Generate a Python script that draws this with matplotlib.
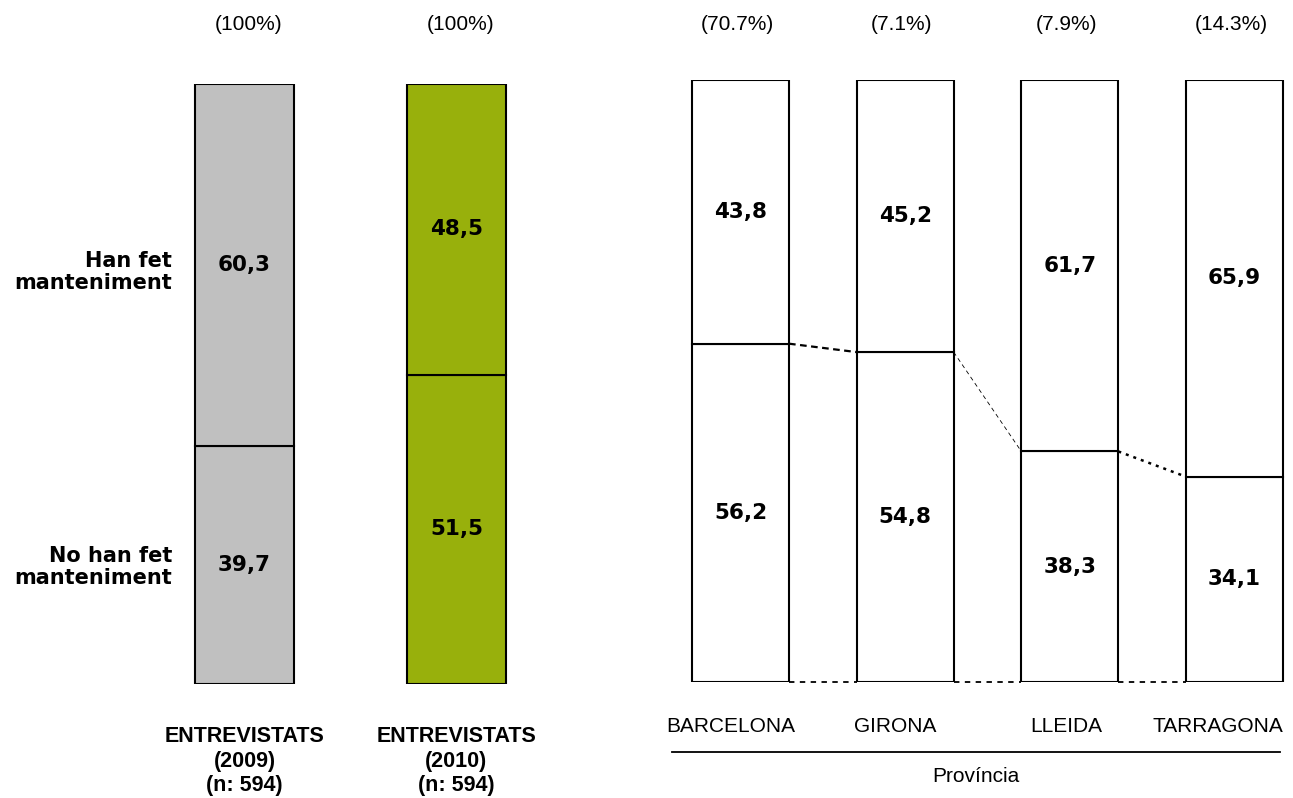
import matplotlib.pyplot as plt
import matplotlib.transforms as mtransforms
from matplotlib.lines import Line2D

# data
years = ['2009', '2010']
year_n = ['594', '594']
year_han = [60.3, 48.5]
year_no = [39.7, 51.5]
year_colors = ['#C0C0C0', '#98B00C']

provinces = ['BARCELONA', 'GIRONA', 'LLEIDA', 'TARRAGONA']
prov_share = ['70.7%', '7.1%', '7.9%', '14.3%']
prov_han = [43.8, 45.2, 61.7, 65.9]
prov_no = [56.2, 54.8, 38.3, 34.1]

# small horizontal nudges of the province names (as in the original layout)
name_shift = [-0.06, -0.06, -0.02, -0.1]

fig = plt.figure(figsize=(12.93, 7.98), dpi=100)
W, H = 1293.0, 798.0

# left axes: pixels x 150-550, y 84-684
axL = fig.add_axes([150 / W, (H - 684) / H, 400 / W, 600 / H])
# right axes: pixels x 650-1293, y 80-682
axR = fig.add_axes([650 / W, (H - 682) / H, 643 / W, 602 / H])

for ax in (axL, axR):
    ax.set_ylim(0, 100)
    ax.axis('off')

axL.set_xlim(-94.5 / 212, 1 + 93.5 / 212)
axR.set_xlim(-90.5 / 164.67, 3 + 58.5 / 164.67)

wL = 99 / 212
wR = 97 / 164.67

xl = list(range(len(years)))
axL.bar(xl, year_no, width=wL, color=year_colors, edgecolor='black', linewidth=1.5)
axL.bar(xl, year_han, bottom=year_no, width=wL, color=year_colors, edgecolor='black', linewidth=1.5)

xr = list(range(len(provinces)))
axR.bar(xr, prov_no, width=wR, color='white', edgecolor='black', linewidth=1.5)
axR.bar(xr, prov_han, bottom=prov_no, width=wR, color='white', edgecolor='black', linewidth=1.5)


def fmt(v):
    return f'{v:.1f}'.replace('.', ',')


# value labels
for i in xl:
    axL.text(i, year_no[i] / 2, fmt(year_no[i]), ha='center', va='center',
             fontsize=15.5, fontweight='bold', family='DejaVu Sans')
    axL.text(i, year_no[i] + year_han[i] / 2, fmt(year_han[i]), ha='center',
             va='center', fontsize=15.5, fontweight='bold', family='DejaVu Sans')
for i in xr:
    axR.text(i, prov_no[i] / 2, fmt(prov_no[i]), ha='center', va='center',
             fontsize=15.5, fontweight='bold', family='DejaVu Sans')
    axR.text(i, prov_no[i] + prov_han[i] / 2, fmt(prov_han[i]), ha='center',
             va='center', fontsize=15.5, fontweight='bold', family='DejaVu Sans')

# connectors between province bars
styles = [((0, (3, 2)), 1.6), ((0, (5, 4)), 0.6), ((0, (1.2, 2)), 1.8)]
for i in range(len(provinces) - 1):
    ls, lw = styles[i]
    axR.plot([i + wR / 2, i + 1 - wR / 2], [prov_no[i], prov_no[i + 1]], color='black',
             linestyle=ls, linewidth=lw, clip_on=False)
    axR.plot([i + wR / 2, i + 1 - wR / 2], [0, 0], color='black',
             linestyle=(0, (3, 3)), linewidth=1.3, clip_on=False)

# top percentages and bottom names
tL = mtransforms.blended_transform_factory(axL.transData, fig.transFigure)
tR = mtransforms.blended_transform_factory(axR.transData, fig.transFigure)
for i in xl:
    axL.text(i + 0.02, 1 - 25 / H, '(100%)', transform=tL, ha='center', va='center',
             fontsize=15, family='Liberation Sans')
    axL.text(i, 1 - 761 / H, f'ENTREVISTATS\n({years[i]})\n(n: {year_n[i]})', transform=tL,
             ha='center', va='center', fontsize=15.5, fontweight='bold', family='Liberation Sans',
             linespacing=1.2)
for i in xr:
    axR.text(i - 0.02, 1 - 25 / H, f'({prov_share[i]})', transform=tR, ha='center', va='center',
             fontsize=15, family='Liberation Sans')
    axR.text(i + name_shift[i], 1 - 727 / H, provinces[i], transform=tR, ha='center', va='center',
             fontsize=15, family='Liberation Sans')

fig.add_artist(Line2D([672 / W, 1280 / W], [1 - 752 / H, 1 - 752 / H], color='black', linewidth=1.3))
fig.text(976 / W, 1 - 777 / H, 'Província', ha='center', va='center', fontsize=15,
         family='Liberation Sans')

# row labels
fig.text(172 / W, 1 - 272 / H, 'Han fet\nmanteniment', ha='right', va='center', fontsize=15,
         fontweight='bold', family='DejaVu Sans', linespacing=1.15)
fig.text(172 / W, 1 - 567 / H, 'No han fet\nmanteniment', ha='right', va='center', fontsize=15,
         fontweight='bold', family='DejaVu Sans', linespacing=1.15)

fig.savefig('out.png', dpi=100, facecolor='white')
